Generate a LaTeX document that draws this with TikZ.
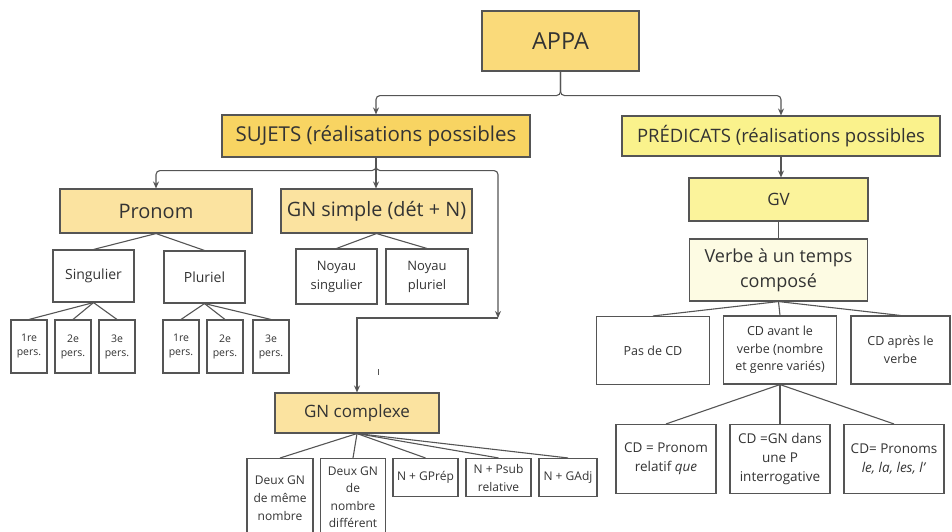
\documentclass[tikz,border=0pt]{standalone}
\usepackage{fontspec}
\setmainfont{Open Sans}
\usetikzlibrary{arrows.meta}

\definecolor{ink}{HTML}{333333}
\definecolor{edge}{HTML}{555555}
\definecolor{rootfill}{HTML}{FADA7A}
\definecolor{subjfill}{HTML}{F8D462}
\definecolor{subfill}{HTML}{FBE3A0}
\definecolor{predfill}{HTML}{FAF28C}
\definecolor{gvfill}{HTML}{FBF39B}
\definecolor{verbfill}{HTML}{FDFBE3}

\newcommand{\fs}[2]{\fontsize{#1}{#2}\selectfont}

\tikzset{
  box/.style={draw=edge, line width=1.1pt, text=ink, align=center, inner sep=1pt},
  tl/.style={draw=edge, line width=1.1pt},
  arr/.style={draw=edge, line width=1.1pt, -{Stealth[length=7pt,width=6pt]}},
  sz/.style 2 args={font=\fs{#1}{#2}},
}

\begin{document}
\begin{tikzpicture}[x=1pt,y=-1pt]
\useasboundingbox (0,0) rectangle (952,531);
\clip (0,0) rectangle (952,531);

% top levels
\node[box, fill=rootfill, minimum width=157, minimum height=60, sz={23.5}{28}] (appa) at (560.5,41) {APPA};
\node[box, fill=subjfill, minimum width=308, minimum height=42, sz={20.5}{24}] (suj) at (376,136) {SUJETS (réalisations possibles};
\node[box, fill=predfill, minimum width=318, minimum height=40, sz={18.5}{22}] (pred) at (781,136) {PRÉDICATS (réalisations possibles};

% subject branch
\node[box, fill=subfill, minimum width=192, minimum height=44, sz={20}{24}] (pronom) at (156,211) {Pronom};
\node[box, fill=subfill, minimum width=191, minimum height=44, sz={19.8}{24}] (gns) at (376.5,211) {GN simple (dét + N)};

\node[box, minimum width=81, minimum height=52, sz={14}{17}] (sing) at (93.5,276) {Singulier};
\node[box, minimum width=81, minimum height=52, sz={14}{17}] (plur) at (204.5,277) {Pluriel};

\foreach \nm/\cx/\lab in {p1/29/1re, p2/73/2e, p3/117/3e, q1/181/1re, q2/225/2e, q3/271/3e}
  \node[box, minimum width=36, minimum height=53, sz={10.5}{14}] (\nm) at (\cx,346.5) {\lab\\pers.};

\node[box, minimum width=81, minimum height=55, sz={13}{19}] (ns) at (336.5,276.5) {Noyau\\singulier};
\node[box, minimum width=82, minimum height=55, sz={13}{19}] (np) at (427,276.5) {Noyau\\pluriel};

\node[box, fill=subfill, minimum width=164, minimum height=40, sz={17}{21}] (gnc) at (357,413) {GN complexe};

\node[box, minimum width=66, minimum height=80, anchor=north, sz={12}{18}] (c1) at (280,458) {Deux GN\\de même\\nombre};
\node[box, minimum width=65, minimum height=77, anchor=north, sz={12}{17.5}] (c2) at (353,458) {Deux GN\\de\\nombre\\différent};
\node[box, minimum width=65, minimum height=38, sz={12}{18}] (c3) at (425.5,477.5) {N + GPrép};
\node[box, minimum width=65, minimum height=38, sz={12}{18}] (c4) at (498.5,477.5) {N + Psub\\relative};
\node[box, minimum width=58, minimum height=38, sz={12}{18}] (c5) at (568,477.5) {N + GAdj};

% predicate branch
\node[box, fill=gvfill, minimum width=179, minimum height=43, sz={17}{21}] (gv) at (778.5,199.5) {GV};
\node[box, fill=verbfill, minimum width=178, minimum height=62, sz={18}{25}] (verbe) at (778.5,270) {Verbe à un temps\\composé};

\node[box, minimum width=113, minimum height=68, sz={12.5}{17.5}] (pas) at (653,350.5) {Pas de CD};
\node[box, minimum width=113, minimum height=68, sz={12.5}{17.5}] (cdav) at (780,350) {CD avant le\\verbe (nombre\\et genre variés)};
\node[box, minimum width=99, minimum height=68, sz={12.5}{17.5}] (cdap) at (900.5,350) {CD après le\\verbe};

\node[box, minimum width=100, minimum height=69, sz={13.5}{19}] (r1) at (666,459) {CD = Pronom\\relatif \textit{que}};
\node[box, minimum width=100, minimum height=69, sz={13.5}{19}] (r2) at (780,459) {CD =GN dans\\une P\\interrogative};
\node[box, minimum width=100, minimum height=69, sz={13.5}{19}] (r3) at (894,459) {CD= Pronoms\\\textit{le, la, les, l'}};

% arrows from the root
\draw[arr, rounded corners=4] (appa.south) -- ++(0,24) -| (suj.north);
\draw[arr, rounded corners=4] (appa.south) -- ++(0,24) -| (pred.north);

% arrows below SUJETS
\coordinate (bend) at (498,318);
\draw[arr, rounded corners=4] (suj.south) -- ++(0,13) -| (pronom.north);
\draw[arr] (suj.south) -- (suj.south |- gns.north);
\draw[arr, rounded corners=4] (suj.south) -- ++(0,13) -| (bend);
\draw[arr] (bend) -| (gnc.north);

% tree lines, subject side
\draw[tl] (pronom.south) -- (sing.north);
\draw[tl] (pronom.south) -- (plur.north);
\foreach \c in {p1,p2,p3} \draw[tl] (sing.south) -- (\c.north);
\foreach \c in {q1,q2,q3} \draw[tl] (plur.south) -- (\c.north);
\draw[tl] (gns.south) -- (ns.north);
\draw[tl] (gns.south) -- (np.north);
\foreach \c in {c1,c2,c3,c4,c5} \draw[tl] (gnc.south) -- (\c.north);

% small tick mark
\draw[edge, line width=0.8pt] (378,369) -- (378,375);

% predicate side
\draw[arr] (pred.south) -- (pred.south |- gv.north);
\draw[tl] (gv.south) -- (verbe.north);
\foreach \c in {pas,cdav,cdap} \draw[tl] (verbe.south) -- (\c.north);
\foreach \c in {r1,r2,r3} \draw[tl] (cdav.south) -- (\c.north);
\end{tikzpicture}
\end{document}
